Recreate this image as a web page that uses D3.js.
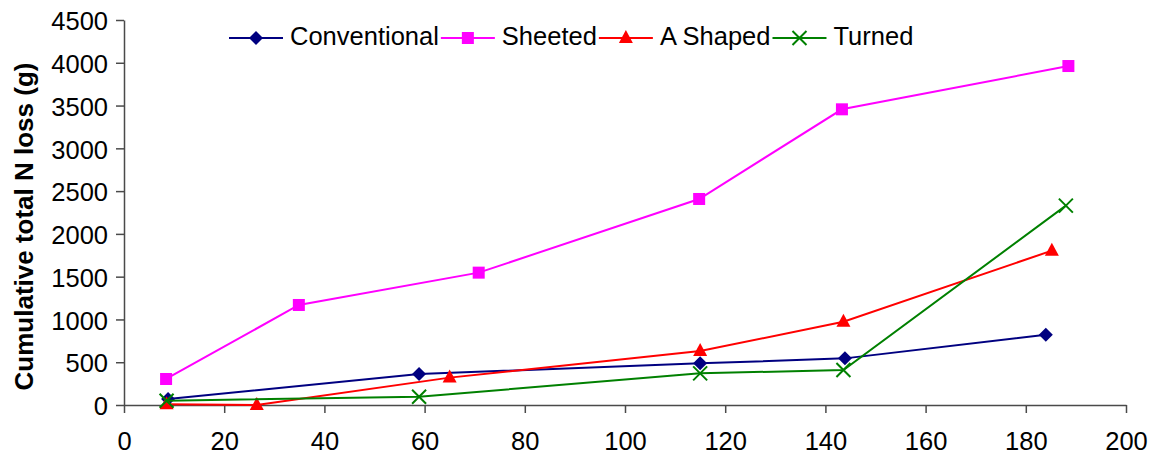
<!DOCTYPE html>
<html>
<head>
<meta charset="utf-8">
<script src="https://cdn.jsdelivr.net/npm/d3@7"></script>
<style>
  html, body { margin: 0; padding: 0; background: #fff; }
  svg { display: block; font-family: "Liberation Sans", Arial, sans-serif; }
</style>
</head>
<body>
<svg id="chart" width="1158" height="458"></svg>
<script>
// Cumulative total N loss (g) over time for four windrow treatments
const seriesNames = ["Conventional", "Sheeted", "A Shaped", "Turned"];
const conventionalDays = [8.8, 58.9, 115, 143.9, 184];
const conventionalLoss = [70, 362, 487, 545, 822];
const sheetedDays = [8.4, 34.9, 70.8, 114.8, 143.3, 188.5];
const sheetedLoss = [304, 1169, 1547, 2408, 3456, 3962];
const aShapedDays = [8.5, 26.5, 65, 115, 143.6, 185.2];
const aShapedLoss = [10, 0, 320, 630, 974, 1804];
const turnedDays = [8.5, 58.9, 115, 143.6, 188];
const turnedLoss = [50, 97, 370, 409, 2330];
const xTicks = [0, 20, 40, 60, 80, 100, 120, 140, 160, 180, 200];
const yTicks = [0, 500, 1000, 1500, 2000, 2500, 3000, 3500, 4000, 4500];

const series = [
  { name: seriesNames[0], days: conventionalDays, loss: conventionalLoss, color: "#000080", marker: "diamond" },
  { name: seriesNames[1], days: sheetedDays, loss: sheetedLoss, color: "#FF00FF", marker: "square" },
  { name: seriesNames[2], days: aShapedDays, loss: aShapedLoss, color: "#FF0000", marker: "triangle" },
  { name: seriesNames[3], days: turnedDays, loss: turnedLoss, color: "#008000", marker: "cross" }
];

const svg = d3.select("#chart");
const x = d3.scaleLinear().domain([0, 200]).range([124, 1126]);
const y = d3.scaleLinear().domain([0, 4500]).range([405, 20]);
const axisColor = "#4a4a4a";
const fontSize = 25.5;

// Axes
const gx = svg.append("g").attr("transform", `translate(0,${y(0)})`)
  .call(d3.axisBottom(x).tickValues(xTicks).tickFormat(d3.format("d"))
    .tickSize(8).tickSizeOuter(0).tickPadding(19));
const gy = svg.append("g").attr("transform", `translate(${x(0)},0)`)
  .call(d3.axisLeft(y).tickValues(yTicks).tickFormat(d3.format("d"))
    .tickSize(8).tickSizeOuter(0).tickPadding(8));
[gx, gy].forEach(g => {
  g.select(".domain").attr("stroke", axisColor).attr("stroke-width", 1.5);
  g.selectAll(".tick line").attr("stroke", axisColor).attr("stroke-width", 1.5);
  g.selectAll(".tick text").attr("fill", "#000").style("font-size", fontSize + "px")
    .style("font-family", "'Liberation Sans', Arial, sans-serif");
});
gy.selectAll(".tick text").attr("dy", "0.38em");

// Y axis title
svg.append("text")
  .attr("transform", `translate(33,${(60 + 393) / 2}) rotate(-90)`)
  .attr("text-anchor", "middle")
  .style("font-size", "26px").style("font-weight", "bold")
  .text("Cumulative total N loss (g)");

// Marker shapes
function drawMarker(g, type, color, cx, cy) {
  if (type === "diamond") {
    g.append("path").attr("d", `M${cx},${cy - 7}L${cx + 7},${cy}L${cx},${cy + 7}L${cx - 7},${cy}Z`)
      .attr("fill", color);
  } else if (type === "square") {
    g.append("rect").attr("x", cx - 6).attr("y", cy - 6).attr("width", 12).attr("height", 12)
      .attr("fill", color);
  } else if (type === "triangle") {
    g.append("path").attr("d", `M${cx},${cy - 8}L${cx + 7},${cy + 5}L${cx - 7},${cy + 5}Z`)
      .attr("fill", color);
  } else {
    g.append("path").attr("d", `M${cx - 7},${cy - 7}L${cx + 7},${cy + 7}M${cx - 7},${cy + 7}L${cx + 7},${cy - 7}`)
      .attr("stroke", color).attr("stroke-width", 2).attr("fill", "none");
  }
}

// Series lines and markers
const line = d3.line().x(d => x(d[0])).y(d => y(d[1]));
series.forEach(s => {
  const pts = s.days.map((d, i) => [d, s.loss[i]]);
  const g = svg.append("g");
  g.append("path").datum(pts).attr("d", line)
    .attr("fill", "none").attr("stroke", s.color).attr("stroke-width", 2);
  pts.forEach(p => drawMarker(g, s.marker, s.color, x(p[0]), y(p[1])));
});

// Legend across the top
const legend = svg.append("g");
let lx = 229;
const ly = 38;
series.forEach(s => {
  const item = legend.append("g");
  item.append("line").attr("x1", lx).attr("x2", lx + 54).attr("y1", ly).attr("y2", ly)
    .attr("stroke", s.color).attr("stroke-width", 2);
  drawMarker(item, s.marker, s.color, lx + 27, ly);
  const t = item.append("text").attr("x", lx + 61).attr("y", ly + 6.5)
    .style("font-size", fontSize + "px").text(s.name);
  lx = lx + 61 + t.node().getComputedTextLength() + 2;
});
</script>
</body>
</html>
